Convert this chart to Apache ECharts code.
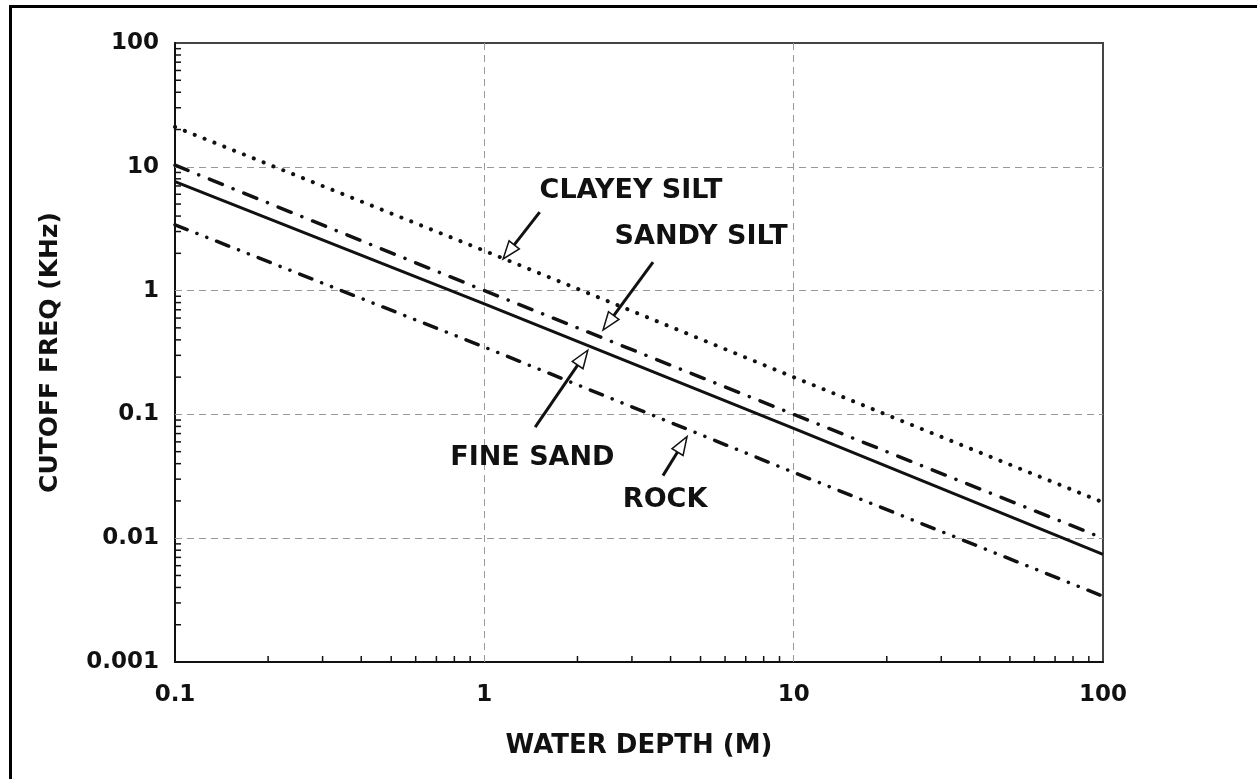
<!DOCTYPE html>
<html>
<head>
<meta charset="utf-8">
<script src="https://cdn.jsdelivr.net/npm/echarts@6/dist/echarts.min.js"></script>
<style>
html,body{margin:0;padding:0;background:#fff;}
#chart{width:1257px;height:779px;}
</style>
</head>
<body>
<div id="chart"></div>
<script>
// ---- data ----
const depth = [0.1, 1, 10, 100];
const clayeySilt = [21, 2.1, 0.2, 0.0195];
const sandySilt = [10.3, 1.0, 0.1, 0.01];
const fineSand = [7.6, 0.78, 0.077, 0.0074];
const rock = [3.4, 0.35, 0.034, 0.0034];

const xTickValues = [0.1, 1, 10, 100];
const xTickLabels = ['0.1', '1', '10', '100'];
const yTickValues = [0.001, 0.01, 0.1, 1, 10, 100];
const yTickLabels = ['0.001', '0.01', '0.1', '1', '10', '100'];
const xGridValues = [1, 10];
const yGridValues = [0.01, 0.1, 1, 10];

const annLabels = ['CLAYEY SILT', 'SANDY SILT', 'FINE SAND', 'ROCK'];
const annTip = [[1.15, 1.8], [2.42, 0.48], [2.16, 0.33], [4.52, 0.066]];
const annTail = [[1.51, 4.3], [3.51, 1.7], [1.46, 0.079], [3.78, 0.032]];
const annText = [[2.98, 6.37], [5.02, 2.71], [1.43, 0.0445], [3.84, 0.0204]];

// ---- helpers ----
function labelFor(v, vals, labs) {
  let best = 0, bd = Infinity;
  vals.forEach((t, i) => { const d = Math.abs(Math.log10(v) - Math.log10(t)); if (d < bd) { bd = d; best = i; } });
  return bd < 0.01 ? labs[best] : '';
}
const FONT = '"DejaVu Sans", sans-serif';
const INK = '#111';

// minor tick positions (2..9 per decade)
const minorTicks = [];
for (let d = -1; d <= 1; d++) for (let k = 2; k <= 9; k++) minorTicks.push([k * Math.pow(10, d), 0.001, 0]);
for (let d = -3; d <= 1; d++) for (let k = 2; k <= 9; k++) minorTicks.push([0.1, k * Math.pow(10, d), 1]);

const annData = annLabels.map((l, i) => [annTip[i][0], annTip[i][1], annTail[i][0], annTail[i][1], annText[i][0], annText[i][1]]);

const chart = echarts.init(document.getElementById('chart'), null, {renderer: 'canvas'});

function lineSeries(name, ys, style) {
  return {
    name: name, type: 'line', symbol: 'none', z: 5,
    data: depth.map((d, i) => [d, ys[i]]),
    lineStyle: Object.assign({color: INK}, style),
    animation: false
  };
}

const option = {
  animation: false,
  backgroundColor: '#fff',
  graphic: [{
    type: 'rect', left: 8, top: 4, shape: {width: 1300, height: 800},
    style: {fill: 'none', stroke: '#000', lineWidth: 3}, silent: true
  }],
  grid: {left: 175, right: 154, top: 43, bottom: 117, show: true, borderColor: '#444', borderWidth: 2, backgroundColor: 'transparent'},
  xAxis: {
    type: 'log', logBase: 10, min: 0.1, max: 100,
    name: 'WATER DEPTH (M)', nameLocation: 'middle', nameGap: 71,
    nameTextStyle: {fontFamily: FONT, fontWeight: 'bold', fontSize: 26, color: INK},
    axisLine: {lineStyle: {color: INK, width: 2}},
    axisTick: {show: false},
    splitLine: {show: false},
    axisLabel: {fontFamily: FONT, fontWeight: 'bold', fontSize: 23, color: INK, margin: 22,
      formatter: v => labelFor(v, xTickValues, xTickLabels)}
  },
  yAxis: {
    type: 'log', logBase: 10, min: 0.001, max: 100,
    name: 'CUTOFF FREQ (KHz)', nameLocation: 'middle', nameGap: 112, nameRotate: 90,
    nameTextStyle: {fontFamily: FONT, fontWeight: 'bold', fontSize: 25, color: INK},
    axisLine: {lineStyle: {color: INK, width: 2}},
    axisTick: {show: false},
    splitLine: {show: false},
    axisLabel: {fontFamily: FONT, fontWeight: 'bold', fontSize: 23, color: INK, margin: 16,
      formatter: v => labelFor(v, yTickValues, yTickLabels)}
  },
  series: [
    {
      name: 'grid', type: 'line', data: [], z: 1, symbol: 'none',
      markLine: {
        silent: true, symbol: 'none', animation: false, label: {show: false},
        lineStyle: {color: '#999', width: 1, type: [7, 5]},
        data: xGridValues.map(v => ({xAxis: v})).concat(yGridValues.map(v => ({yAxis: v})))
      }
    },
    {
      name: 'minorTicks', type: 'custom', z: 6, clip: false, silent: true,
      data: minorTicks,
      renderItem: function (params, api) {
        const p = api.coord([api.value(0), api.value(1)]);
        const isY = api.value(2) === 1;
        const len = 6;
        return {
          type: 'line',
          shape: isY ? {x1: p[0], y1: p[1], x2: p[0] + len, y2: p[1]} : {x1: p[0], y1: p[1], x2: p[0], y2: p[1] - len},
          style: {stroke: INK, lineWidth: 1.5}
        };
      }
    },
    lineSeries('CLAYEY SILT', clayeySilt, {width: 4, type: [0.1, 10.5], cap: 'round'}),
    lineSeries('SANDY SILT', sandySilt, {width: 3.5, type: [14, 11.5, 0.1, 11.5], cap: 'round'}),
    lineSeries('FINE SAND', fineSand, {width: 3, type: 'solid'}),
    lineSeries('ROCK', rock, {width: 3.5, type: [13, 10.5, 0.1, 10.5, 0.1, 10.5], cap: 'round'}),
    {
      name: 'annotations', type: 'custom', z: 8, clip: false, silent: true,
      data: annData,
      encode: {x: [0, 2, 4], y: [1, 3, 5]},
      renderItem: function (params, api) {
        const i = params.dataIndex;
        const tip = api.coord([api.value(0), api.value(1)]);
        const tail = api.coord([api.value(2), api.value(3)]);
        const tp = api.coord([api.value(4), api.value(5)]);
        const dx = tip[0] - tail[0], dy = tip[1] - tail[1];
        const L = Math.hypot(dx, dy) || 1;
        const ux = dx / L, uy = dy / L, nx = -uy, ny = ux;
        const hl = 18, hw = 6.5;
        const bx = tip[0] - ux * hl, by = tip[1] - uy * hl;
        return {
          type: 'group',
          children: [
            {type: 'line', shape: {x1: tail[0], y1: tail[1], x2: bx, y2: by}, style: {stroke: INK, lineWidth: 3}},
            {type: 'polygon', shape: {points: [[tip[0], tip[1]], [bx + nx * hw, by + ny * hw], [bx - nx * hw, by - ny * hw]]},
              style: {fill: '#fff', stroke: INK, lineWidth: 1.5}},
            {type: 'text', x: tp[0], y: tp[1],
              style: {text: annLabels[i], fill: INK, font: 'bold 27px ' + FONT, align: 'center', verticalAlign: 'middle'}}
          ]
        };
      }
    }
  ]
};
chart.setOption(option);
</script>
</body>
</html>
